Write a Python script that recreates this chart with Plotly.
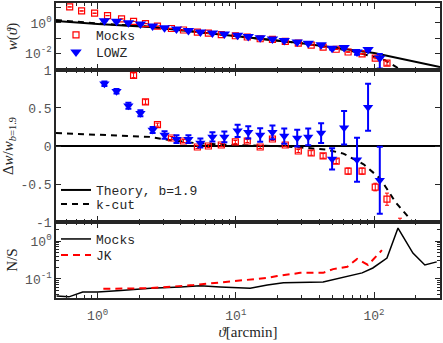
import plotly.graph_objects as go
from plotly.subplots import make_subplots

# ---------------- data ----------------
theory_theta = [0.5, 1.0, 2.4, 10, 29, 100, 200, 300]
theory_w = [1.35, 0.85, 0.54, 0.135, 0.047, 0.010, 0.0025, 0.00117]
theory_dw = [0, 0, 0, 0, 0, 0, 0, 0]

kcut_theta_top = [0.5, 1, 2.4, 10, 29, 50, 70, 94, 120, 143, 165]
kcut_w = [1.58, 0.93, 0.56, 0.135, 0.046, 0.022, 0.013, 0.0063, 0.0033, 0.00126, 0.00048]

kcut_theta_mid = [0.5, 1, 2.4, 3, 5, 10, 20, 30, 46, 60, 84, 111, 143, 190, 210]
kcut_dw = [0.17, 0.15, 0.12, 0.09, 0.04, 0.01, 0.0, -0.02, -0.05, -0.1, -0.24, -0.43, -0.74, -1.0, -1.3]

mock_theta = [0.628, 0.766, 0.951, 1.18, 1.49, 1.82, 2.22, 2.71, 3.42, 4.18, 5.27, 6.33, 7.85,
              9.92, 12.1, 15.0, 18.4, 22.8, 28.3, 35.1, 42.8, 53.2, 64.9, 81.9, 102, 124, 154]
mock_w = [11.7, 6.3, 4.47, 3.09, 1.86, 1.26, 0.91, 0.62, 0.43, 0.34, 0.245, 0.209, 0.17,
          0.141, 0.117, 0.089, 0.081, 0.060, 0.045, 0.034, 0.025, 0.0178, 0.0117, 0.0087, 0.0046, 0.0021, None]
mock_dw = [12.3, 6.8, 5.2, 3.8, 2.3, 0.93, 0.58, 0.28, 0.105, 0.066, -0.013, 0.0, 0.013,
           0.053, 0.066, -0.013, 0.092, 0.013, -0.066, -0.092, -0.13, -0.2, -0.33, -0.33, -0.54, -0.70, -1.15]
mock_dw_err = [0.3, 0.2, 0.15, 0.1, 0.06, 0.03, 0.03, 0.02, 0.02, 0.02, 0.02, 0.02, 0.02,
               0.02, 0.02, 0.02, 0.02, 0.02, 0.02, 0.03, 0.03, 0.03, 0.04, 0.04, 0.05, 0.08, 0.2]

lowz_theta = [1.12, 1.37, 1.67, 2.04, 2.50, 3.05, 3.72, 4.54, 5.54, 6.77, 8.26, 10.3,
              12.3, 15.0, 18.4, 22.4, 27.8, 33.4, 41.4, 49.7, 60.7, 75.3, 90.5, 110]
lowz_w = [1.41, 1.29, 1.02, 0.85, 0.63, 0.49, 0.39, 0.316, 0.251, 0.219, 0.182, 0.155,
          0.126, 0.102, 0.087, 0.068, 0.054, 0.044, 0.035, 0.0204, 0.0234, 0.0117, 0.0174, 0.0047]
lowz_dw = [0.82, 0.72, 0.53, 0.43, 0.21, 0.145, 0.09, 0.09, 0.04, 0.12, 0.12, 0.2,
           0.18, 0.145, 0.18, 0.13, 0.105, 0.12, 0.17, -0.17, 0.24, -0.18, 0.51, -0.45]
lowz_dw_err = [0.03, 0.03, 0.04, 0.04, 0.04, 0.05, 0.05, 0.05, 0.06, 0.06, 0.07, 0.08,
               0.08, 0.09, 0.09, 0.1, 0.11, 0.11, 0.13, 0.14, 0.22, 0.29, 0.31, 0.44]

ns_mocks_theta = [0.505, 0.62, 0.78, 1.0, 1.47, 2.41, 3.97, 5.53, 7.71, 12.7, 16.9, 22.1,
                  42.8, 56.9, 82, 98, 124, 149, 191, 233, 284]
ns_mocks = [0.0355, 0.0339, 0.0457, 0.0457, 0.0501, 0.0575, 0.0617, 0.0661, 0.0617, 0.0575,
            0.0692, 0.0794, 0.0832, 0.107, 0.145, 0.195, 0.355, 2.19, 0.479, 0.234, 0.282]
ns_jk_theta = [1.10, 2.41, 4.94, 10.8, 16.9, 19.9, 29.2, 42.8, 50.6, 64, 75.4, 90.4, 105, 114]
ns_jk = [0.055, 0.0575, 0.0692, 0.0933, 0.107, 0.120, 0.145, 0.145, 0.182, 0.209, 0.339,
         0.234, 0.427, 0.575]

x_tick_vals = [1, 10, 100]
x_tick_text = ["10<sup>0</sup>", "10<sup>1</sup>", "10<sup>2</sup>"]


# relative errors propagated to the top panel
def top_err(w, dw, e):
    out = []
    for wi, di, ei in zip(w, dw, e):
        out.append(None if wi is None else wi * ei / max(1 + di, 0.3))
    return out


mock_w_err = top_err(mock_w, mock_dw, mock_dw_err)
lowz_w_err = top_err(lowz_w, lowz_dw, lowz_dw_err)

# ---------------- figure ----------------
RED = "#ff0000"
BLUE = "#0000ff"
BLK = "#000000"
AX = "#262626"
MONO = "Liberation Mono"
SERIF = "Liberation Serif"

fig = make_subplots(rows=3, cols=1, shared_xaxes=True, vertical_spacing=0)

# top
fig.add_trace(go.Scatter(x=theory_theta, y=theory_w, mode="lines",
                         line=dict(color=BLK, width=2), showlegend=False), row=1, col=1)
fig.add_trace(go.Scatter(x=kcut_theta_top, y=kcut_w, mode="lines",
                         line=dict(color=BLK, width=2, dash="6px,5px"), showlegend=False), row=1, col=1)
fig.add_trace(go.Scatter(x=mock_theta, y=mock_w, mode="markers", name="Mocks",
                         marker=dict(symbol="square-open", size=6, color=RED, line=dict(width=1.2)),
                         error_y=dict(type="data", array=mock_w_err, color=RED, thickness=1, width=2),
                         legend="legend"), row=1, col=1)
fig.add_trace(go.Scatter(x=lowz_theta, y=lowz_w, mode="markers", name="LOWZ",
                         marker=dict(symbol="triangle-down", size=10, color=BLUE),
                         error_y=dict(type="data", array=lowz_w_err, color=BLUE, thickness=2, width=3),
                         legend="legend2"), row=1, col=1)

# middle
fig.add_trace(go.Scatter(x=theory_theta, y=theory_dw, mode="lines", name="Theory, b=1.9",
                         line=dict(color=BLK, width=2), legend="legend3"), row=2, col=1)
fig.add_trace(go.Scatter(x=kcut_theta_mid, y=kcut_dw, mode="lines", name="k-cut",
                         line=dict(color=BLK, width=2, dash="6px,5px"), legend="legend4"), row=2, col=1)
fig.add_trace(go.Scatter(x=mock_theta, y=mock_dw, mode="markers", showlegend=False,
                         marker=dict(symbol="square-open", size=6, color=RED, line=dict(width=1.2)),
                         error_y=dict(type="data", array=mock_dw_err, color=RED, thickness=1, width=2)),
              row=2, col=1)
fig.add_trace(go.Scatter(x=lowz_theta, y=lowz_dw, mode="markers", showlegend=False,
                         marker=dict(symbol="triangle-down", size=9, color=BLUE),
                         error_y=dict(type="data", array=lowz_dw_err, color=BLUE, thickness=2, width=3)),
              row=2, col=1)

# bottom
fig.add_trace(go.Scatter(x=ns_mocks_theta, y=ns_mocks, mode="lines", name="Mocks",
                         line=dict(color=BLK, width=1.5), legend="legend5"), row=3, col=1)
fig.add_trace(go.Scatter(x=ns_jk_theta, y=ns_jk, mode="lines", name="JK",
                         line=dict(color=RED, width=2, dash="7px,5px"), legend="legend6"), row=3, col=1)

tickfont = dict(family=MONO, size=13, color="#555555")
xcommon = dict(type="log", range=[-0.301, 2.477], showline=True, linecolor=AX, linewidth=1.5,
               mirror="ticks", ticks="inside", ticklen=6, tickwidth=1.2, tickcolor=AX,
               tickvals=x_tick_vals, showgrid=False, zeroline=False, automargin=False,
               minor=dict(ticks="inside", ticklen=3, tickwidth=1, tickcolor=AX, dtick="D1", showgrid=False))
fig.update_xaxes(**xcommon)
fig.update_xaxes(showticklabels=False, row=1, col=1)
fig.update_xaxes(showticklabels=False, row=2, col=1)
fig.update_xaxes(showticklabels=True, ticktext=x_tick_text, tickfont=tickfont, ticklabelstandoff=5,
                 title=dict(text="<i>ϑ</i>[arcmin]", font=dict(family=SERIF, size=15, color=AX), standoff=3),
                 row=3, col=1)

ycommon = dict(showline=True, linecolor=AX, linewidth=1.5, mirror="ticks", ticks="inside",
               ticklen=5, tickwidth=1.2, tickcolor=AX, showgrid=False, zeroline=False,
               tickfont=tickfont, automargin=False)
fig.update_yaxes(**ycommon)
fig.update_yaxes(type="log", range=[-3.13, 1.33], domain=[0.7729, 1.0],
                 tickvals=[0.001, 0.01, 0.1, 1, 10],
                 ticktext=["", "10<sup>-2</sup>", "", "10<sup>0</sup>", ""],
                 title=dict(text="<i>w</i>(<i>ϑ</i>)", font=dict(family=SERIF, size=15, color=AX), standoff=4),
                 row=1, col=1)
fig.update_yaxes(range=[-1, 1], domain=[0.2576, 0.7729],
                 tickvals=[-1, -0.5, 0, 0.5, 1], ticktext=["-1", "-0.5", "0", "0.5", "1"],
                 title=dict(text="Δ<i>w</i>/<i>w</i><sub><i>b</i>=1.9</sub>",
                            font=dict(family=SERIF, size=15, color=AX), standoff=4),
                 row=2, col=1)
fig.update_yaxes(type="log", range=[-1.5, 0.5], domain=[0.0, 0.2576],
                 tickvals=[0.1, 1], ticktext=["10<sup>-1</sup>", "10<sup>0</sup>"],
                 minor=dict(ticks="inside", ticklen=3, tickwidth=1, tickcolor=AX, dtick="D1", showgrid=False),
                 title=dict(text="N/S", font=dict(family=SERIF, size=15, color=AX), standoff=4),
                 row=3, col=1)

legfont = dict(family=MONO, size=13, color=AX)
legcommon = dict(x=0.0, xanchor="left", yanchor="middle", bgcolor="rgba(0,0,0,0)", borderwidth=0,
                 font=legfont, itemwidth=30)
fig.update_layout(
    width=443, height=343,
    margin=dict(l=56, r=3, t=3, b=45, autoexpand=False),
    paper_bgcolor="white", plot_bgcolor="white",
    legend=dict(y=0.8915, **legcommon),
    legend2=dict(y=0.8339, **legcommon),
    legend3=dict(y=0.3661, **legcommon),
    legend4=dict(y=0.3186, **legcommon),
    legend5=dict(y=0.2000, **legcommon),
    legend6=dict(y=0.1458, **legcommon),
)

fig.write_html("out.html", config={"displayModeBar": False},
               post_script="document.body.style.margin='0px';")
